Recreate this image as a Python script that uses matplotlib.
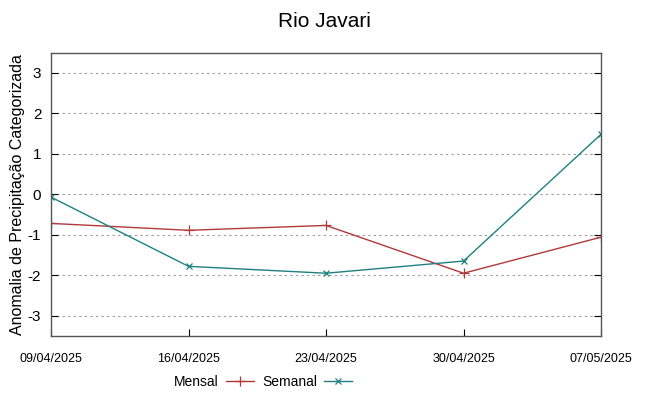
import numpy as np
import matplotlib
matplotlib.use('Agg')
import matplotlib.pyplot as plt

datas = ['09/04/2025', '16/04/2025', '23/04/2025', '30/04/2025', '07/05/2025']
mensal = [-0.72, -0.89, -0.77, -1.95, -1.06]
semanal = [-0.07, -1.78, -1.95, -1.65, 1.48]
yticks = [-3, -2, -1, 0, 1, 2, 3]

plt.rcParams['font.family'] = ['Liberation Sans Narrow', 'Liberation Sans', 'DejaVu Sans']

fig = plt.figure(figsize=(6.49, 3.96), dpi=100)
ax = fig.add_axes([51/649., 1-336/396., 550/649., 283.5/396.])
x = np.arange(len(datas))

ax.plot(x, mensal, color='#b03a3a', lw=1.0, marker='+', ms=7, mew=0.9, label='Mensal')
ax.plot(x, semanal, color='#1f8080', lw=1.0, marker='x', ms=5, mew=0.9, label='Semanal')

ax.set_xlim(0, len(datas)-1)
ax.set_ylim(-3.5, 3.5)
ax.set_xticks(x)
ax.set_xticklabels(datas, fontsize=9)
ax.set_yticks(yticks)
ax.set_yticklabels([str(v) for v in yticks], fontsize=11)
ax.tick_params(direction='in', length=5, color='black', right=True, pad=7)
ax.tick_params(axis='x', pad=12)
ax.yaxis.grid(True, linestyle=(0, (2, 3)), color='#999999', lw=0.8)
for s in ax.spines.values():
    s.set_color('#555555')
    s.set_linewidth(1.0)

ax.set_ylabel('Anomalia de Precipitação Categorizada', fontsize=11.5, labelpad=2,
              family=['Liberation Sans', 'DejaVu Sans'])
fig.suptitle('Rio Javari', fontsize=15, y=0.97, family=['Liberation Sans', 'DejaVu Sans'])

fig.legend(loc='center', bbox_to_anchor=(263/649., 1-382/396.), ncol=2, frameon=False,
           markerfirst=False, fontsize=10, handlelength=2.0, columnspacing=0.6,
           handletextpad=0.5)

fig.savefig('out.png', dpi=100)
